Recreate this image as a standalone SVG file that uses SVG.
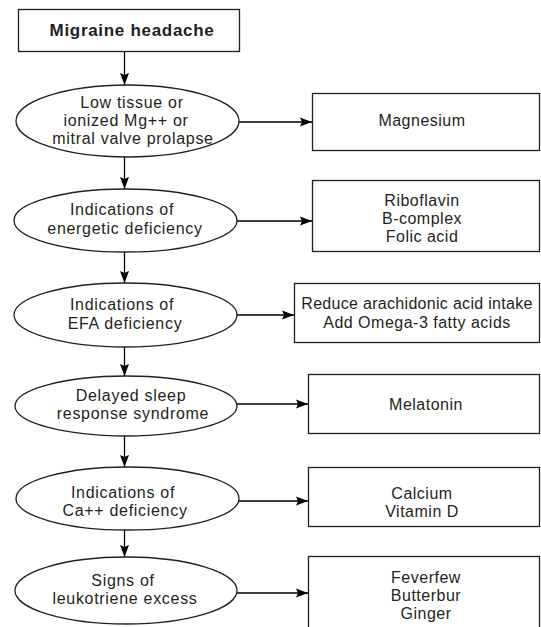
<svg xmlns="http://www.w3.org/2000/svg" width="541" height="627" viewBox="0 0 541 627">
<style>
.shape{fill:#fff;stroke:#231f20;stroke-width:1.3}
.t{font-family:"Liberation Sans",Arial,sans-serif;font-size:16px;letter-spacing:0.5px;fill:#231f20;text-anchor:middle}
.e{letter-spacing:0.7px}
.b{font-weight:bold;font-size:17px;letter-spacing:0.7px}
.c{fill:none;stroke:#000;stroke-width:1.3}
</style>
<defs>
<marker id="ah" viewBox="0 0 12 10" refX="12" refY="5" markerWidth="12" markerHeight="10" markerUnits="userSpaceOnUse" orient="auto">
<path d="M0,0.5 L12,5 L0,9.5 L2,5 Z" fill="#000"/>
</marker>
</defs>
<rect width="541" height="627" fill="#fff"/>
<g id="connectors">
<line class="c" x1="124.5" y1="52" x2="124.5" y2="85" marker-end="url(#ah)"/>
<line class="c" x1="124.5" y1="157" x2="124.5" y2="189" marker-end="url(#ah)"/>
<line class="c" x1="124.5" y1="252" x2="124.5" y2="283" marker-end="url(#ah)"/>
<line class="c" x1="124.5" y1="347" x2="124.5" y2="376" marker-end="url(#ah)"/>
<line class="c" x1="124.5" y1="436" x2="124.5" y2="467" marker-end="url(#ah)"/>
<line class="c" x1="124.5" y1="530" x2="124.5" y2="557" marker-end="url(#ah)"/>
<line class="c" x1="239" y1="122" x2="312" y2="122" marker-end="url(#ah)"/>
<line class="c" x1="237" y1="221" x2="312" y2="221" marker-end="url(#ah)"/>
<line class="c" x1="237" y1="315" x2="294" y2="315" marker-end="url(#ah)"/>
<line class="c" x1="237" y1="404" x2="308" y2="404" marker-end="url(#ah)"/>
<line class="c" x1="239" y1="501" x2="308" y2="501" marker-end="url(#ah)"/>
<line class="c" x1="237" y1="593" x2="308" y2="593" marker-end="url(#ah)"/>
</g>
<g id="migraine">
<rect class="shape" x="18.5" y="9.5" width="221" height="42"/>
<text class="t b" x="132" y="36">Migraine headache</text>
</g>
<g id="low-mg">
<ellipse class="shape" cx="127.5" cy="121" rx="111.5" ry="36"/>
<text class="t e" x="132" y="108">Low tissue or</text>
<text class="t e" x="126" y="126">ionized Mg++ or</text>
<text class="t e" x="133" y="144">mitral valve prolapse</text>
</g>
<g id="energetic">
<ellipse class="shape" cx="125.5" cy="220.5" rx="111.5" ry="31.5"/>
<text class="t e" x="122" y="215">Indications of</text>
<text class="t e" x="125" y="234">energetic deficiency</text>
</g>
<g id="efa">
<ellipse class="shape" cx="125.5" cy="315" rx="111.5" ry="32"/>
<text class="t e" x="122" y="310">Indications of</text>
<text class="t e" x="125" y="329">EFA deficiency</text>
</g>
<g id="sleep">
<ellipse class="shape" cx="126" cy="406" rx="111" ry="30"/>
<text class="t e" x="131" y="401">Delayed sleep</text>
<text class="t e" x="133" y="419">response syndrome</text>
</g>
<g id="calcium-def">
<ellipse class="shape" cx="127.5" cy="498.5" rx="111.5" ry="31.5"/>
<text class="t e" x="123" y="498">Indications of</text>
<text class="t e" x="125" y="516">Ca++ deficiency</text>
</g>
<g id="leukotriene">
<ellipse class="shape" cx="126" cy="590.5" rx="111" ry="33.5"/>
<text class="t e" x="123" y="586">Signs of</text>
<text class="t e" x="125" y="604">leukotriene excess</text>
</g>
<g id="magnesium">
<rect class="shape" x="312.5" y="93.5" width="227" height="57"/>
<text class="t" x="422" y="126">Magnesium</text>
</g>
<g id="riboflavin">
<rect class="shape" x="312.5" y="180.5" width="227" height="71"/>
<text class="t" x="422" y="206">Riboflavin</text>
<text class="t" x="422" y="224">B-complex</text>
<text class="t" x="422" y="242">Folic acid</text>
</g>
<g id="omega">
<rect class="shape" x="294.5" y="283.5" width="245" height="59"/>
<text class="t" x="417" y="309" style="letter-spacing:0.3px">Reduce arachidonic acid intake</text>
<text class="t" x="417" y="328">Add Omega-3 fatty acids</text>
</g>
<g id="melatonin">
<rect class="shape" x="308.5" y="374.5" width="231" height="59"/>
<text class="t" x="426" y="410">Melatonin</text>
</g>
<g id="calcium">
<rect class="shape" x="308.5" y="467.5" width="231" height="59"/>
<text class="t" x="422" y="499">Calcium</text>
<text class="t" x="422" y="517">Vitamin D</text>
</g>
<g id="feverfew">
<rect class="shape" x="308.5" y="556.5" width="231" height="90"/>
<text class="t" x="426" y="583">Feverfew</text>
<text class="t" x="426" y="601">Butterbur</text>
<text class="t" x="426" y="619">Ginger</text>
</g>
</svg>
